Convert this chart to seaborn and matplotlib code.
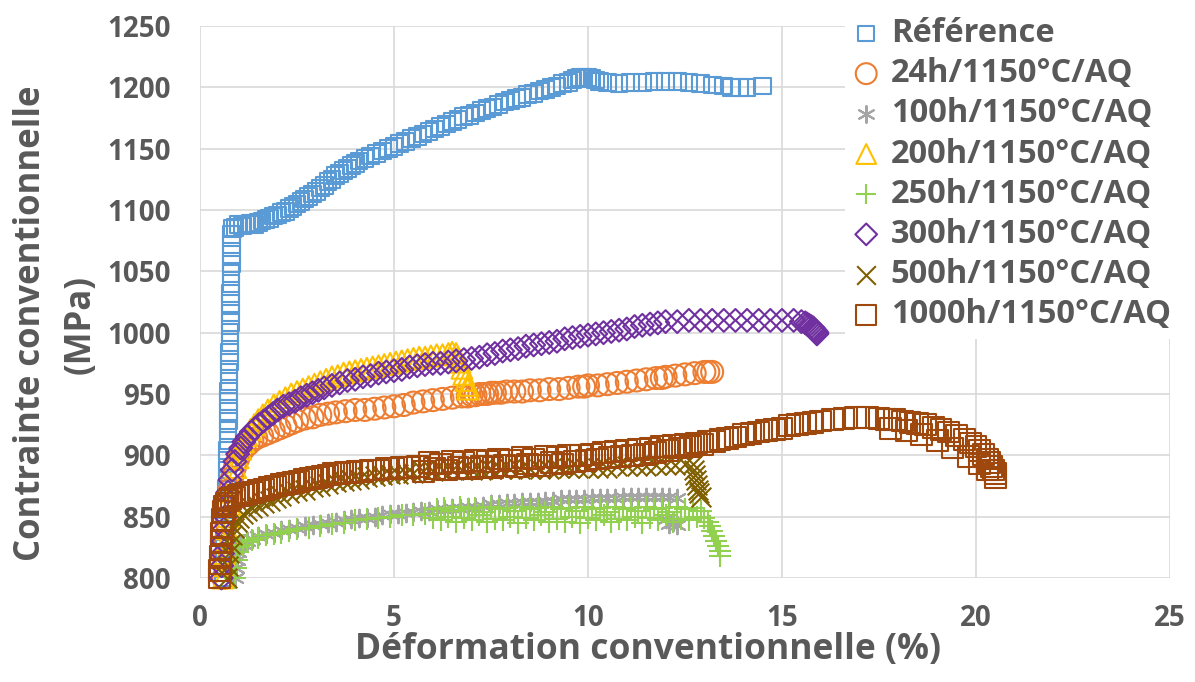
import matplotlib
matplotlib.use("Agg")
import matplotlib.pyplot as plt
import seaborn as sns
import pandas as pd

# strain (%) / stress (MPa), one pair of lists per treatment
ref_x = [0.60, 0.61, 0.62, 0.63, 0.64, 0.65, 0.66, 0.67, 0.68, 0.69, 0.70, 0.70, 0.71, 0.71, 0.72, 0.72, 0.73, 0.73,
         0.74, 0.74, 0.75, 0.75, 0.76, 0.76, 0.77, 0.77, 0.78, 0.78, 0.79, 0.79, 0.80, 0.80, 0.81, 0.81, 0.82, 0.82, 0.83,
         0.9, 1.0, 1.1, 1.2, 1.3, 1.4, 1.5, 1.6, 1.7, 1.8, 1.9, 2.0, 2.1, 2.2, 2.3, 2.4, 2.5, 2.6, 2.7, 2.8, 2.9,
         3.0, 3.1, 3.2, 3.3, 3.4, 3.5, 3.6, 3.7, 3.8, 3.9, 4.0, 4.1, 4.25, 4.4, 4.55, 4.7, 4.85, 5.0, 5.15, 5.3,
         5.45, 5.6, 5.75, 5.9, 6.05, 6.2, 6.35, 6.5, 6.65, 6.8, 6.95, 7.1, 7.25, 7.4, 7.55, 7.7, 7.85, 8.0, 8.15,
         8.3, 8.45, 8.6, 8.75, 8.9, 9.05, 9.2, 9.35, 9.5, 9.6, 9.7, 9.8, 9.9, 10.0, 10.1, 10.2, 10.3, 10.5, 10.8,
         11.1, 11.4, 11.7, 12.0, 12.3, 12.6, 12.9, 13.2, 13.5, 13.7, 13.9, 14.1, 14.5]
ref_y = [800, 808, 816, 824, 832, 840, 848, 856, 864, 872, 880, 888, 896, 904, 912, 920, 928, 936,
         944, 952, 960, 968, 976, 984, 992, 1000, 1008, 1016, 1024, 1032, 1040, 1048, 1056, 1064, 1072, 1080, 1085,
         1086, 1088, 1087, 1088, 1089, 1088, 1090, 1091, 1092, 1093, 1095, 1096, 1098, 1099, 1101, 1103, 1105, 1107, 1109, 1111, 1113,
         1115, 1118, 1120, 1123, 1125, 1128, 1130, 1132, 1134, 1136, 1138, 1140, 1142, 1144, 1146, 1148, 1150, 1152, 1154, 1156,
         1158, 1160, 1162, 1164, 1166, 1168, 1170, 1172, 1174, 1176, 1177, 1179, 1181, 1183, 1184, 1186, 1188, 1189, 1191,
         1192, 1194, 1195, 1197, 1198, 1200, 1201, 1203, 1204, 1206, 1207, 1208, 1208, 1208, 1207, 1206, 1205, 1204, 1203,
         1204, 1204, 1205, 1205, 1205, 1204, 1203, 1202, 1201, 1200, 1200, 1200, 1201]

h24_x = [0.6, 0.62, 0.65, 0.68, 0.72, 0.77, 0.83, 0.9, 0.98, 1.06, 1.15, 1.25, 1.35, 1.45, 1.6, 1.75, 1.9, 2.05,
         2.2, 2.35, 2.5, 2.7, 2.9, 3.1, 3.3, 3.5, 3.75, 4.0, 4.25, 4.5, 4.75, 5.0, 5.25, 5.5, 5.75, 6.0, 6.25, 6.5,
         6.75, 6.9, 7.0, 7.1, 7.2, 7.3, 7.4, 7.5, 7.6, 7.75, 7.9, 8.1, 8.3, 8.5, 8.75, 9.0, 9.25, 9.5, 9.75, 9.9,
         10.0, 10.25, 10.5, 10.75, 11.0, 11.25, 11.5, 11.75, 11.9, 12.0, 12.25, 12.5, 12.75, 13.0, 13.1, 13.2]
h24_y = [800, 815, 830, 845, 860, 872, 882, 890, 897, 902, 906, 909, 912, 914, 916, 918, 920, 922,
         924, 926, 928, 930, 931, 933, 934, 935, 936, 937, 937, 938, 939, 940, 941, 943, 944, 945, 946, 947,
         948, 948, 949, 949, 950, 950, 950, 951, 951, 951, 952, 952, 952, 953, 953, 954, 954, 955, 956, 956,
         957, 957, 958, 959, 960, 961, 962, 963, 963, 964, 965, 966, 967, 968, 968, 968]

h100_x = [0.9, 0.92, 0.95, 0.98, 1.0, 1.1, 1.2, 1.35, 1.5, 1.7, 1.9, 2.1, 2.3, 2.5, 2.7, 2.9, 3.1, 3.3, 3.5,
          3.7, 3.9, 4.1, 4.3, 4.5, 4.7, 4.9, 5.1, 5.3, 5.5, 5.7, 5.9, 6.1, 6.3, 6.5, 6.7, 6.9, 7.1, 7.3, 7.5,
          7.7, 7.9, 8.1, 8.3, 8.5, 8.7, 8.9, 9.1, 9.3, 9.5, 9.7, 9.9, 10.1, 10.3, 10.5, 10.7, 10.9, 11.1, 11.3,
          11.5, 11.7, 11.9, 12.1, 12.3, 12.0, 12.1, 12.2, 12.3]
h100_y = [800, 808, 815, 821, 825, 828, 830, 832, 834, 836, 837, 839, 840, 841, 842, 843, 844, 845, 846,
          847, 848, 849, 849, 850, 851, 852, 852, 853, 854, 855, 855, 856, 856, 857, 857, 858, 858, 859, 860,
          860, 861, 861, 862, 862, 862, 863, 863, 864, 864, 864, 864, 865, 865, 865, 865, 866, 866, 866,
          866, 866, 866, 866, 865, 848, 844, 846, 843]

h200_x = [0.6, 0.62, 0.64, 0.67, 0.7, 0.73, 0.77, 0.81, 0.86, 0.92, 0.98, 1.05, 1.12, 1.2, 1.3, 1.4, 1.5, 1.62,
          1.75, 1.9, 2.05, 2.2, 2.35, 2.5, 2.65, 2.8, 2.95, 3.1, 3.25, 3.4, 3.55, 3.7, 3.85, 4.0, 4.15, 4.3, 4.45,
          4.6, 4.75, 4.9, 5.05, 5.2, 5.35, 5.5, 5.65, 5.8, 5.95, 6.1, 6.25, 6.4, 6.5, 6.6, 6.65, 6.7, 6.75, 6.8,
          6.85, 6.9, 6.9]
h200_y = [800, 810, 820, 830, 840, 850, 860, 870, 880, 890, 898, 905, 911, 916, 921, 925, 929, 933,
          937, 941, 944, 947, 950, 952, 954, 956, 958, 960, 962, 964, 965, 967, 968, 969, 970, 971, 972,
          973, 974, 975, 976, 977, 978, 979, 980, 980, 981, 982, 982, 983, 984, 983, 980, 976, 971, 966,
          961, 957, 954]

h250_x = [0.9, 0.92, 0.95, 0.98, 1.0, 1.1, 1.2, 1.35, 1.5, 1.7, 1.9, 2.1, 2.3, 2.5, 2.8, 3.1, 3.4, 3.7, 4.0,
          4.3, 4.6, 4.9, 5.2, 5.5, 5.8, 6.0, 6.1, 6.2, 6.3, 6.4, 6.5, 6.6, 6.7, 6.8, 6.9, 7.0, 7.1, 7.2, 7.3,
          7.4, 7.5, 7.6, 7.7, 7.8, 7.9, 8.0, 8.1, 8.2, 8.3, 8.4, 8.5, 8.6, 8.7, 8.8, 8.9, 9.0, 9.1, 9.2, 9.3,
          9.4, 9.5, 9.6, 9.7, 9.8, 9.9, 10.0, 10.1, 10.2, 10.3, 10.4, 10.5, 10.6, 10.7, 10.8, 10.9, 11.0, 11.1,
          11.2, 11.3, 11.4, 11.5, 11.6, 11.7, 11.8, 11.9, 12.0, 12.1, 12.2, 12.3, 12.4, 12.5, 12.6, 12.7, 12.8,
          12.9, 13.0, 13.1, 13.15, 13.2, 13.25, 13.3, 13.35, 13.4, 13.4]
h250_y = [800, 808, 815, 821, 825, 827, 829, 831, 833, 835, 836, 837, 838, 840, 841, 842, 844, 845, 847,
          848, 849, 850, 851, 851, 852, 849, 856, 847, 857, 850, 855, 846, 858, 849, 856, 847, 857, 851, 854,
          846, 858, 848, 856, 847, 857, 850, 855, 845, 858, 849, 856, 847, 857, 851, 854, 846, 858, 848, 856,
          846, 857, 850, 855, 845, 858, 849, 856, 847, 857, 851, 854, 846, 858, 848, 856, 847, 857,
          850, 855, 845, 858, 849, 856, 847, 857, 851, 854, 846, 858, 848, 856, 847, 857, 850,
          855, 849, 846, 842, 838, 834, 830, 826, 822, 818]

h300_x = [0.55, 0.56, 0.58, 0.6, 0.62, 0.65, 0.68, 0.72, 0.77, 0.83, 0.9, 0.97, 1.05, 1.13, 1.22, 1.32, 1.42,
          1.52, 1.64, 1.76, 1.88, 2.0, 2.15, 2.3, 2.45, 2.6, 2.75, 2.9, 3.05, 3.2, 3.4, 3.6, 3.8, 4.0, 4.2, 4.4,
          4.6, 4.8, 5.0, 5.2, 5.4, 5.6, 5.8, 6.0, 6.2, 6.4, 6.6, 6.8, 7.0, 7.2, 7.4, 7.6, 7.8, 8.0, 8.2, 8.4,
          8.6, 8.8, 9.0, 9.2, 9.4, 9.6, 9.8, 10.0, 10.2, 10.4, 10.6, 10.8, 11.0, 11.2, 11.4, 11.6, 11.8, 12.0,
          12.3, 12.6, 12.9, 13.2, 13.5, 13.8, 14.1, 14.4, 14.7, 15.0, 15.3, 15.5, 15.6, 15.65, 15.7, 15.75, 15.8,
          15.82, 15.85, 15.88, 15.9, 15.9]
h300_y = [800, 810, 820, 830, 840, 850, 860, 870, 880, 888, 895, 901, 906, 911, 915, 919, 922,
          925, 928, 931, 934, 937, 940, 942, 944, 947, 949, 951, 953, 955, 957, 959, 961, 962, 964, 965,
          967, 968, 969, 970, 972, 973, 974, 975, 975, 976, 977, 978, 979, 980, 982, 983, 985, 986, 987, 989,
          990, 991, 992, 993, 995, 996, 997, 998, 999, 1000, 1001, 1002, 1003, 1005, 1006, 1007, 1008, 1009,
          1009, 1010, 1010, 1010, 1010, 1010, 1010, 1010, 1010, 1010, 1010, 1009, 1008, 1007, 1006, 1005, 1004,
          1003, 1002, 1001, 1000, 999]

h500_x = [0.7, 0.72, 0.75, 0.78, 0.82, 0.88, 0.95, 1.0, 1.1, 1.2, 1.35, 1.5, 1.65, 1.8, 1.95, 2.1, 2.3, 2.5,
          2.7, 2.9, 3.1, 3.3, 3.5, 3.7, 3.9, 4.1, 4.3, 4.5, 4.7, 4.9, 5.1, 5.3, 5.5, 5.75, 6.0, 6.25, 6.5, 6.75,
          7.0, 7.25, 7.5, 7.75, 8.0, 8.25, 8.5, 8.75, 9.0, 9.25, 9.5, 9.75, 10.0, 10.25, 10.5, 10.75, 11.0,
          11.25, 11.5, 11.75, 12.0, 12.25, 12.5, 12.7, 12.72, 12.75, 12.78, 12.8, 12.83, 12.86, 12.9]
h500_y = [800, 810, 820, 828, 835, 841, 846, 849, 852, 855, 857, 859, 861, 863, 865, 867, 869, 871,
          872, 874, 875, 877, 878, 879, 880, 881, 882, 883, 884, 885, 885, 886, 886, 887, 887, 888, 888, 888,
          888, 888, 889, 889, 889, 889, 889, 889, 889, 890, 890, 890, 890, 890, 890, 891, 891,
          891, 891, 892, 892, 892, 893, 893, 888, 884, 880, 876, 872, 869, 866]

h1000_x = [0.50, 0.51, 0.52, 0.53, 0.54, 0.55, 0.56, 0.57, 0.58, 0.60, 0.63, 0.67, 0.72, 0.8, 0.9, 1.0, 1.1,
           1.2, 1.35, 1.5, 1.65, 1.8, 1.95, 2.1, 2.25, 2.4, 2.55, 2.7, 2.85, 3.0, 3.15, 3.3, 3.45, 3.6, 3.75,
           3.9, 4.05, 4.2, 4.4, 4.6, 4.8, 5.0, 5.2, 5.4, 5.6, 5.75, 5.9, 6.05, 6.2, 6.35, 6.5, 6.65, 6.8, 6.95,
           7.1, 7.25, 7.4, 7.55, 7.7, 7.85, 8.0, 8.15, 8.3, 8.45, 8.6, 8.75, 8.9, 9.05, 9.2, 9.35, 9.5, 9.65,
           9.8, 9.95, 10.1, 10.25, 10.4, 10.55, 10.7, 10.85, 11.0, 11.15, 11.3, 11.45, 11.6, 11.75, 11.9, 12.05,
           12.2, 12.35, 12.5, 12.65, 12.8, 12.95, 13.1, 13.25, 13.4, 13.6, 13.8, 14.0, 14.2, 14.4, 14.6, 14.8,
           15.0, 15.2, 15.4, 15.6, 15.8, 16.0, 16.3, 16.6, 16.9, 17.2, 17.5, 17.7, 17.9, 18.1, 18.3, 18.5, 18.7,
           18.9, 19.1, 19.3, 19.5, 19.7, 19.85, 20.0, 20.1, 20.2, 20.3, 20.35, 20.4, 20.45, 20.5, 20.5,
           17.8, 18.2, 18.6, 19.0, 19.4, 19.8, 20.1, 20.3]
h1000_y = [800, 806, 812, 818, 824, 830, 836, 842, 848, 854, 858, 861, 863, 865, 866, 867, 868,
           869, 870, 871, 872, 874, 875, 876, 877, 878, 879, 880, 881, 882, 883, 884, 885, 885, 886,
           886, 887, 887, 888, 888, 889, 889, 890, 890, 891, 887, 894, 889, 893, 888, 895, 890, 894, 889,
           896, 891, 895, 890, 897, 892, 896, 891, 898, 893, 897, 892, 899, 894, 898, 893, 900, 895,
           900, 896, 901, 897, 902, 898, 903, 899, 904, 900, 905, 901, 906, 902, 907, 904,
           908, 906, 909, 907, 910, 909, 911, 911, 913, 914, 915, 917, 918, 919, 920, 921,
           922, 924, 925, 926, 927, 928, 929, 930, 931, 931, 930, 929, 929, 928, 927, 926, 925,
           923, 921, 919, 916, 913, 910, 907, 904, 901, 897, 894, 891, 888, 885, 882,
           922, 920, 917, 912, 906, 899, 893, 888]

labels = ["Référence", "24h/1150°C/AQ", "100h/1150°C/AQ", "200h/1150°C/AQ", "250h/1150°C/AQ",
          "300h/1150°C/AQ", "500h/1150°C/AQ", "1000h/1150°C/AQ"]
xs = [ref_x, h24_x, h100_x, h200_x, h250_x, h300_x, h500_x, h1000_x]
ys = [ref_y, h24_y, h100_y, h200_y, h250_y, h300_y, h500_y, h1000_y]

colors = ["#5B9BD5", "#ED7D31", "#A5A5A5", "#FFC000", "#92D050", "#7030A0", "#7F6000", "#9E480E"]
markers = ["s", "o", (6, 2, 0), "^", "+", "D", "x", "s"]
sizes = [145, 250, 160, 225, 240, 135, 200, 225]
filled = [True, True, False, True, False, True, False, True]

sns.set_style("white")
plt.rcParams["font.family"] = ["Open Sans", "DejaVu Sans"]
plt.rcParams["font.weight"] = "bold"
txt = "#595959"

fig = plt.figure(figsize=(11.95, 6.82), dpi=100)
ax = fig.add_axes([200 / 1195, 1 - 578 / 682, 970 / 1195, 552 / 682])

for lab, x, y, c, m, s, f in zip(labels, xs, ys, colors, markers, sizes, filled):
    df = pd.DataFrame({"x": x, "y": y})
    if f:
        sns.scatterplot(data=df, x="x", y="y", ax=ax, marker=m, s=s, color=c,
                        facecolors="none", edgecolor=c, linewidth=1.5, label=lab, clip_on=False)
    else:
        sns.scatterplot(data=df, x="x", y="y", ax=ax, marker=m, s=s, color=c,
                        linewidth=1.5, label=lab, clip_on=False)

ax.set_xlim(0, 25)
ax.set_ylim(800, 1250)
ax.set_xticks(range(0, 26, 5))
ax.set_yticks(range(800, 1251, 50))
ax.grid(True, color="#D9D9D9", linewidth=1.2)
ax.set_axisbelow(True)
for sp in ax.spines.values():
    sp.set_visible(False)
ax.tick_params(length=0, labelsize=20, labelcolor=txt)
ax.tick_params(axis="y", pad=21)
ax.tick_params(axis="x", pad=19)
ax.set_xlabel("")
ax.set_ylabel("")

fig.text(648 / 1195, 1 - 650 / 682, "Déformation conventionnelle (%)", ha="center", va="center",
         fontsize=25.5, color=txt, fontweight="bold")
fig.text(31 / 1195, 1 - 323 / 682, "Contrainte conventionnelle", rotation=90, ha="center", va="center",
         fontsize=25, color=txt, fontweight="bold")
fig.text(81 / 1195, 1 - 324 / 682, "(MPa)", rotation=90, ha="center", va="center",
         fontsize=25, color=txt, fontweight="bold")

leg = ax.legend(loc="upper left", bbox_to_anchor=(845 / 1195, 0.987), bbox_transform=fig.transFigure,
                fontsize=23.5, labelcolor=txt, frameon=True, facecolor="white", edgecolor="none",
                framealpha=1, borderpad=0.25, labelspacing=0.22, handlelength=0.8, handletextpad=0.35,
                borderaxespad=0, markerscale=0.95)
leg.set_zorder(5)

fig.savefig("out.png", dpi=100)
